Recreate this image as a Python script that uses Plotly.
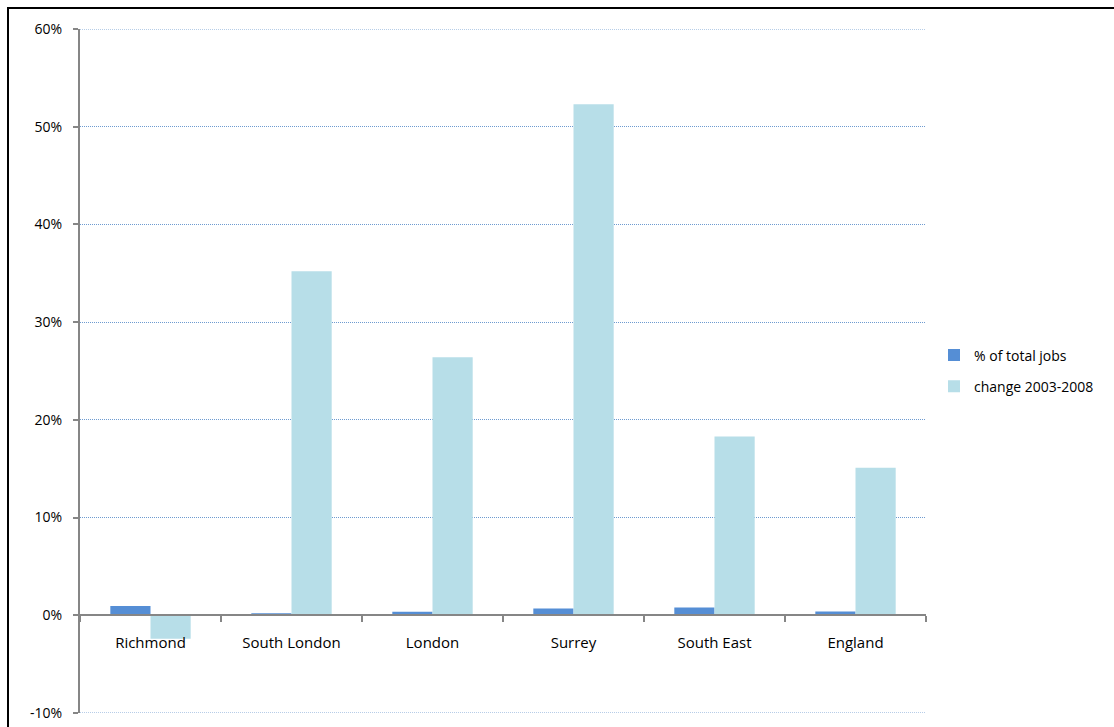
import plotly.graph_objects as go

# Areas compared
areas = ["Richmond", "South London", "London", "Surrey", "South East", "England"]

# Share of total jobs (%)
share_of_jobs = [0.95, 0.2, 0.35, 0.7, 0.8, 0.4]

# Change in jobs 2003-2008 (%)
change_2003_2008 = [-2.4, 35.2, 26.4, 52.3, 18.3, 15.1]

y_ticks = [-10, 0, 10, 20, 30, 40, 50, 60]
y_tick_labels = [f"{v}%" for v in y_ticks]

W, H = 1114, 727
L, R, T, B = 80, 188, 29, 14
plot_w = W - L - R
plot_h = H - T - B

font = dict(family="Open Sans, Liberation Sans, sans-serif", size=15, color="#000000")
grid_color = "#6E9BD0"
grid_dash = "1px,1px"
axis_color = "#868686"

fig = go.Figure()
fig.add_trace(go.Bar(
    x=areas, y=share_of_jobs, name="% of total jobs", legendgroup="share",
    marker=dict(color="#558ED5", line=dict(width=0)),
))
fig.add_trace(go.Bar(
    x=areas, y=change_2003_2008, name="change 2003-2008", legendgroup="change",
    marker=dict(color="#B7DEE8", line=dict(width=0)),
))

# Gridlines at the ends of the value range
edge_lines = [
    dict(type="line", xref="paper", yref="y", x0=0, x1=1, y0=v, y1=v,
         line=dict(color=grid_color, width=1, dash=grid_dash), layer="below")
    for v in (y_ticks[0], y_ticks[-1])
]

# Outer chart border
border = dict(
    type="rect", xref="paper", yref="paper",
    x0=(8 - L) / plot_w, x1=(W + 20 - L) / plot_w,
    y0=-(B + 20) / plot_h, y1=1 + (T - 8) / plot_h,
    line=dict(color="#000000", width=2), fillcolor="rgba(0,0,0,0)",
    layer="below",
)

fig.update_layout(
    width=W, height=H,
    margin=dict(l=L, r=R, t=T, b=B, pad=0, autoexpand=False),
    paper_bgcolor="white", plot_bgcolor="white",
    barmode="group", bargap=0.43, bargroupgap=0,
    font=font,
    showlegend=True,
    legend=dict(
        x=(934 - L) / plot_w, y=0.5, xanchor="left", yanchor="middle",
        font=dict(size=14), itemwidth=30, tracegroupgap=10,
        bgcolor="rgba(0,0,0,0)",
    ),
    xaxis=dict(
        type="category", automargin=False,
        anchor="free", position=1 / 7,
        showline=True, linecolor=axis_color, linewidth=2,
        ticks="outside", tickson="boundaries", ticklen=6, tickcolor=axis_color, tickwidth=2,
        ticklabelstandoff=14,
        showgrid=False, tickfont=font,
    ),
    yaxis=dict(
        range=[-10, 60], automargin=False,
        tickvals=y_ticks, ticktext=y_tick_labels,
        showline=True, linecolor=axis_color, linewidth=2,
        ticks="outside", ticklen=5, tickcolor=axis_color, tickwidth=2,
        ticklabelstandoff=8,
        showgrid=True, gridcolor=grid_color, griddash=grid_dash, gridwidth=1,
        zeroline=False, tickfont=dict(size=14, family=font["family"], color="#000000"),
    ),
    shapes=edge_lines + [border],
)

fig.write_html("out.html")
